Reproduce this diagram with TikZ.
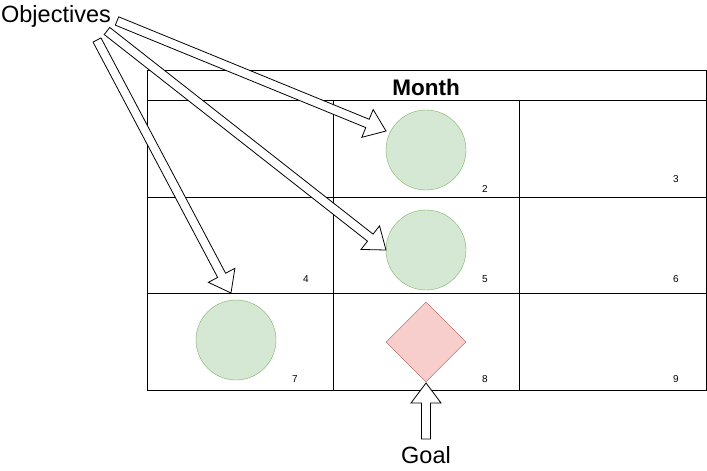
\documentclass[tikz,border=0pt]{standalone}
\usepackage{fontspec}
\setmainfont{Liberation Sans}
\usetikzlibrary{calc,shapes.geometric}

\definecolor{objfill}{HTML}{D5E8D4}
\definecolor{objdraw}{HTML}{82B366}
\definecolor{goalfill}{HTML}{F8CECC}
\definecolor{goaldraw}{HTML}{B85450}

\tikzset{
  grid line/.style={draw=black, line width=1pt},
  cellnum/.style={font=\fontsize{10}{12}\selectfont, inner sep=0pt},
  bigtext/.style={font=\fontsize{23.5}{28}\selectfont, inner sep=0pt},
  objective/.style={circle, draw=objdraw, fill=objfill, minimum size=80pt, inner sep=0pt},
  goal/.style={diamond, draw=goaldraw, fill=goalfill, minimum width=80pt, minimum height=80pt, inner sep=0pt},
  block arrow/.style={draw=black, fill=white, line width=0.8pt, line join=miter}
}

% hollow block arrow from #1 to #2
\newcommand{\blockarrow}[2]{%
  \path[block arrow]
    ($(#1)!4.5pt!90:(#2)$) --
    ($($(#2)!20pt!(#1)$)!4.5pt!-90:(#1)$) --
    ($($(#2)!20pt!(#1)$)!15pt!-90:(#1)$) --
    (#2) --
    ($($(#2)!20pt!(#1)$)!15pt!90:(#1)$) --
    ($($(#2)!20pt!(#1)$)!4.5pt!90:(#1)$) --
    ($(#1)!4.5pt!-90:(#2)$) -- cycle;}

\begin{document}
\begin{tikzpicture}[x=1pt,y=-1pt]
  \useasboundingbox (0,0) rectangle (707,471);

  % table
  \draw[grid line] (147,70) rectangle (706,390);
  \draw[grid line] (147,100) -- (706,100);
  \draw[grid line] (147,197) -- (706,197);
  \draw[grid line] (147,293) -- (706,293);
  \draw[grid line] (333,100) -- (333,390);
  \draw[grid line] (519,100) -- (519,390);
  \node[font=\bfseries\fontsize{22.5}{26}\selectfont, inner sep=0pt] (month) at (426,87) {Month};

  % cell numbers
  \begin{scope}[every node/.style={cellnum}]
    \node (n2) at (485,189) {2};
    \node (n3) at (676,179) {3};
    \node (n4) at (306,279) {4};
    \node (n5) at (485,279) {5};
    \node (n6) at (676,279) {6};
    \node (n7) at (295,379) {7};
    \node (n8) at (485,379) {8};
    \node (n9) at (676,379) {9};
  \end{scope}

  % objectives and goal
  \begin{scope}[every node/.style={objective}]
    \node (obj2) at (426,150) {};
    \node (obj5) at (426,250) {};
    \node (obj7) at (236,340) {};
  \end{scope}
  \node[goal] (goal8) at (426,342) {};

  % labels
  \node[bigtext] (objectives) at (56,16) {Objectives};
  \node[bigtext] (goal) at (426,455) {Goal};

  % arrow ends
  \coordinate (s1) at (117,21);
  \coordinate (s2) at (107,31);
  \coordinate (s3) at (97,40);
  \coordinate (t1) at (386,131);
  \coordinate (t2) at (386,250);
  \coordinate (t3) at (231,293);
  \coordinate (sg) at (426,439);
  \coordinate (tg) at (426,383);

  \blockarrow{s1}{t1}
  \blockarrow{s2}{t2}
  \blockarrow{s3}{t3}
  \blockarrow{sg}{tg}

\end{tikzpicture}
\end{document}
